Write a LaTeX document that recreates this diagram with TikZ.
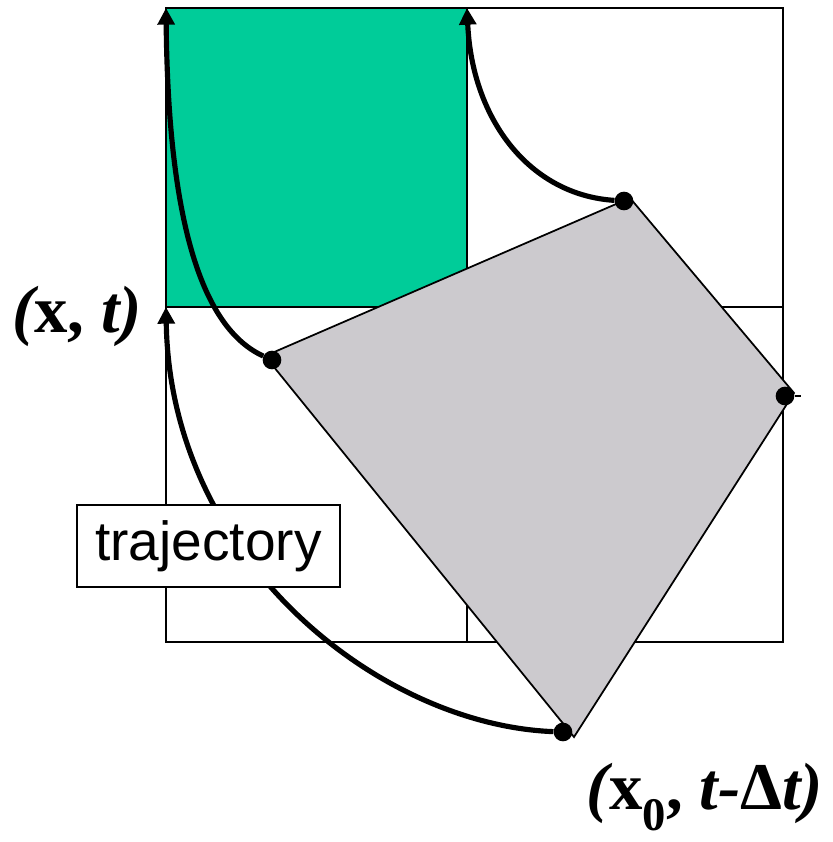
\documentclass[tikz,border=0pt]{standalone}
\usepackage{fontspec}
\setmainfont{Liberation Serif}
\setsansfont{Liberation Sans}
\usetikzlibrary{arrows.meta, positioning}
\definecolor{cellgreen}{RGB}{0, 204, 153}
\definecolor{domaingray}{RGB}{204, 202, 206}
\tikzstyle{gridline}   = [line width=1.5pt, draw=black]
\tikzstyle{trajline}   = [line width=4.4pt, -{Triangle[length=0.5cm, width=0.5cm]}]
\tikzstyle{point}      = [circle, fill=black, inner sep=0pt, minimum size=0.56cm]
\tikzstyle{labelbox}   = [rectangle, draw=black, fill=white, line width=0.9pt,
                          minimum width=7.89cm, minimum height=2.46cm,
                          font=\sffamily\fontsize{47}{56}\selectfont]
\tikzstyle{coordlabel} = [inner sep=0pt, font=\fontsize{57}{66}\selectfont\bfseries]

\begin{document}
\begin{tikzpicture}[x=0.03cm, y=-0.03cm]
  \useasboundingbox (0,0) rectangle (832,842);

  % grid cells
  \fill [cellgreen] (166,8) rectangle (467,307);
  \draw [gridline] (166,8) rectangle (783,642);
  \draw [gridline] (467,8) -- (467,642);
  \draw [gridline] (166,307) -- (783,307);

  % deformed cell
  \draw [fill=domaingray, line width=1.5pt] (265,356) -- (630,198) -- (794,393) -- (574,737) -- cycle;

  % corner points
  \coordinate (c00) at (166,8);
  \coordinate (c10) at (467,8);
  \coordinate (c01) at (166,307);
  \coordinate (tick) at (801,396);
  \node (p1) [point] at (272,360) {};
  \node (p2) [point] at (624,201) {};
  \node (p3) [point] at (785,396) {};
  \node (p4) [point] at (563,732) {};

  % trajectories
  \draw [trajline] (p1) .. controls (195,325) and (168,200) .. (c00);
  \draw [trajline] (p2) .. controls (530,195) and (472,120) .. (c10);
  \draw [trajline] (p4) .. controls (380,725) and (170,560) .. (c01);
  \draw [line width=2.5pt] (p3) -- (tick);

  % labels
  \node (traj) [labelbox] at (208.5,546) {trajectory};
  \node (xt) [coordlabel] at (77,316) {\itshape(\upshape x, \itshape t)};
  \node (x0) [coordlabel] at (705,797) {\itshape(\upshape x$_{\mathbf{0}}$, \itshape t-\upshape Δ\itshape t)};
\end{tikzpicture}
\end{document}
